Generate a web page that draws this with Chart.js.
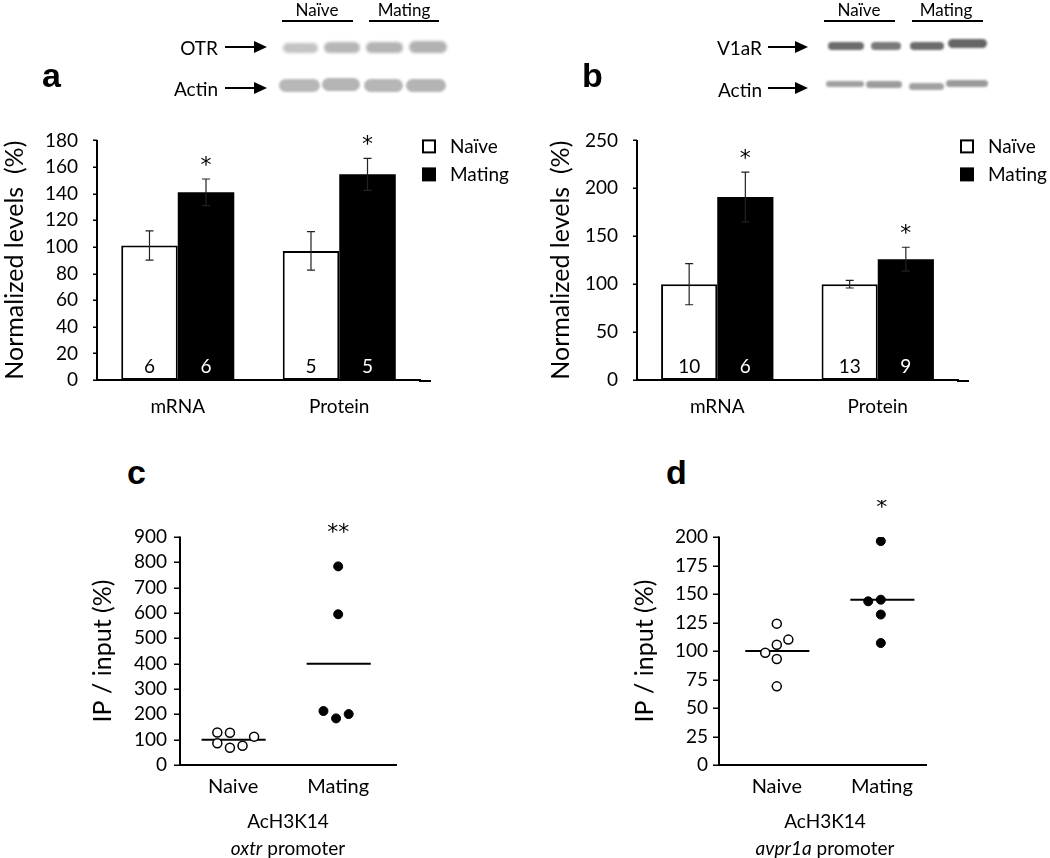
<!DOCTYPE html>
<html>
<head>
<meta charset="utf-8">
<script src="https://cdn.jsdelivr.net/npm/chart.js@4.4.1/dist/chart.umd.min.js"></script>
<style>
body { margin: 0; background: #fff; font-family: Lato, sans-serif; }
#page { position: relative; width: 1050px; height: 858px; overflow: hidden; }
.box { position: absolute; }
#axes { position: absolute; left: 0; top: 0; z-index: 5; pointer-events: none; }
.lbl { position: absolute; white-space: nowrap; color: #000; font-size: 19px; line-height: 1; transform: translate(-50%, -50%); }
.rgt { transform: translate(-100%, -50%); }
.letter { position: absolute; font-family: "Liberation Sans", Arial, sans-serif; font-weight: bold; font-size: 34px; line-height: 1; }
</style>
</head>
<body>
<div id="page">
  <canvas id="blots" class="box" style="left:0;top:0" width="1050" height="110"></canvas>

  <div class="box" style="left:0;top:110px;width:520px;height:320px"><canvas id="chartA" width="520" height="320"></canvas></div>
  <div class="box" style="left:520px;top:110px;width:530px;height:320px"><canvas id="chartB" width="530" height="320"></canvas></div>
  <div class="box" style="left:0;top:500px;width:520px;height:358px"><canvas id="chartC" width="520" height="358"></canvas></div>
  <div class="box" style="left:520px;top:500px;width:530px;height:358px"><canvas id="chartD" width="530" height="358"></canvas></div>

  <!-- panel letters -->
  <span class="letter" style="left:42px;top:58px">a</span>
  <span class="letter" style="left:582px;top:58px">b</span>
  <span class="letter" style="left:127px;top:455px">c</span>
  <span class="letter" style="left:666px;top:455px">d</span>

  <!-- blot labels -->
  <span class="lbl" style="left:317px;top:9px;font-size:17px">Naïve</span>
  <span class="lbl" style="left:404px;top:9px;font-size:17px">Mating</span>
  <span class="lbl rgt" style="left:218px;top:47px">OTR</span>
  <span class="lbl rgt" style="left:218px;top:88px">Actin</span>
  <span class="lbl" style="left:859px;top:9px;font-size:17px">Naïve</span>
  <span class="lbl" style="left:946px;top:9px;font-size:17px">Mating</span>
  <span class="lbl rgt" style="left:762px;top:47px">V1aR</span>
  <span class="lbl rgt" style="left:762px;top:89px">Actin</span>

  <!-- ChIP captions -->
  <span class="lbl" style="left:288px;top:820px">AcH3K14</span>
  <span class="lbl" style="left:288px;top:847px"><i>oxtr</i> promoter</span>
  <span class="lbl" style="left:825px;top:820px">AcH3K14</span>
  <span class="lbl" style="left:825px;top:847px"><i>avpr1a</i> promoter</span>

  <canvas id="axes" width="1050" height="858"></canvas>
</div>

<script>
// ---- data ---------------------------------------------------------------
const barGroups = ['mRNA', 'Protein'];
const seriesNames = ['Naïve', 'Mating'];

// a : OTR
const otrNaive = [101, 97];
const otrNaiveErr = [11, 14.5];
const otrNaiveN = [6, 5];
const otrMating = [141, 154.5];
const otrMatingErr = [10, 12];
const otrMatingN = [6, 5];
const otrStars = ['*', '*'];
const otrTicks = [0, 20, 40, 60, 80, 100, 120, 140, 160, 180];

// b : V1aR
const v1aNaive = [100, 100];
const v1aNaiveErr = [21.5, 4];
const v1aNaiveN = [10, 13];
const v1aMating = [191, 126];
const v1aMatingErr = [26, 12.5];
const v1aMatingN = [6, 9];
const v1aStars = ['*', '*'];
const v1aTicks = [0, 50, 100, 150, 200, 250];

// c : AcH3K14 oxtr promoter (x = group position with jitter)
const dotGroups = ['Naive', 'Mating'];
const oxtrNaiveX = [0.85, 0.97, 0.85, 0.97, 1.09, 1.2];
const oxtrNaiveY = [128, 127, 86, 68, 76, 112];
const oxtrMatingX = [2.0, 2.0, 1.86, 1.98, 2.1];
const oxtrMatingY = [784, 595, 213, 184, 201];
const oxtrMeans = [100, 400];
const oxtrTicks = [0, 100, 200, 300, 400, 500, 600, 700, 800, 900];

// d : AcH3K14 avpr1a promoter
const avprNaiveX = [1.0, 1.11, 1.0, 0.89, 1.0, 1.0];
const avprNaiveY = [124, 110, 105.5, 98.5, 93, 69];
const avprMatingX = [1.99, 1.87, 1.99, 1.99, 1.99];
const avprMatingY = [196.4, 143.6, 145, 132, 107];
const avprMeans = [100, 145];
const avprTicks = [0, 25, 50, 75, 100, 125, 150, 175, 200];

const FONT = 'Lato';
const STAR_FONT = '"DejaVu Sans"';

// ---- western blot pictures ----------------------------------------------
(function drawBlots() {
    const ctx = document.getElementById('blots').getContext('2d');

    function band(x0, x1, y0, y1, col, blur) {
        ctx.save();
        ctx.filter = 'blur(' + blur + 'px)';
        ctx.fillStyle = col;
        ctx.beginPath();
        ctx.roundRect(x0, y0, x1 - x0, y1 - y0, (y1 - y0) / 2);
        ctx.fill();
        ctx.restore();
    }
    function arrow(x0, x1, y) {
        ctx.strokeStyle = '#000';
        ctx.fillStyle = '#000';
        ctx.lineWidth = 2;
        ctx.beginPath();
        ctx.moveTo(x0, y);
        ctx.lineTo(x1 - 10, y);
        ctx.stroke();
        ctx.beginPath();
        ctx.moveTo(x1, y);
        ctx.lineTo(x1 - 13, y - 6);
        ctx.lineTo(x1 - 13, y + 6);
        ctx.closePath();
        ctx.fill();
    }
    function rule(x0, x1, y) {
        ctx.strokeStyle = '#000';
        ctx.lineWidth = 2;
        ctx.beginPath();
        ctx.moveTo(x0, y);
        ctx.lineTo(x1, y);
        ctx.stroke();
    }

    // a
    rule(282, 353, 21);
    rule(369, 439, 21);
    arrow(225, 267, 47);
    arrow(225, 267, 88);
    band(283, 318, 43, 53, '#c4c4c4', 1.5);
    band(324, 360, 42, 53, '#b6b6b6', 1.5);
    band(366, 403, 42, 53, '#b4b4b4', 1.5);
    band(409, 447, 41, 53, '#b2b2b2', 1.5);
    band(279, 320, 79, 92, '#b8b8b8', 1.2);
    band(322, 360, 78, 91, '#b4b4b4', 1.2);
    band(364, 403, 79, 92, '#b6b6b6', 1.2);
    band(406, 446, 79, 92, '#b4b4b4', 1.2);

    // b
    rule(824, 895, 21);
    rule(912, 983, 21);
    arrow(768, 808, 47);
    arrow(768, 808, 88);
    band(828, 864, 42, 50, '#6c6c6c', 1.2);
    band(871, 901, 42, 50, '#7a7a7a', 1.2);
    band(910, 944, 42, 50, '#6c6c6c', 1.2);
    band(948, 987, 39, 48, '#666666', 1.2);
    band(826, 864, 81, 87, '#a0a0a0', 1.2);
    band(866, 902, 81, 88, '#9c9c9c', 1.2);
    band(909, 944, 83, 90, '#a2a2a2', 1.2);
    band(946, 988, 80, 87, '#9a9a9a', 1.2);
})();

// ---- plugins --------------------------------------------------------------
// error bars, n inside the bars, asterisks, legend, longer x axis line
const barDecor = {
    id: 'barDecor',
    afterDatasetsDraw(chart) {
        const ctx = chart.ctx;
        const ys = chart.scales.y;
        const area = chart.chartArea;

        chart.data.datasets.forEach((ds, di) => {
            const meta = chart.getDatasetMeta(di);
            meta.data.forEach((bar, i) => {
                const v = ds.data[i];
                const e = ds.err[i];
                const top = ys.getPixelForValue(v + e);
                const bot = ys.getPixelForValue(v - e);

                ctx.save();
                ctx.strokeStyle = '#222';
                ctx.lineWidth = 1.2;
                ctx.beginPath();
                ctx.moveTo(bar.x, top);
                ctx.lineTo(bar.x, bot);
                ctx.moveTo(bar.x - 4, top);
                ctx.lineTo(bar.x + 4, top);
                ctx.moveTo(bar.x - 4, bot);
                ctx.lineTo(bar.x + 4, bot);
                ctx.stroke();

                ctx.fillStyle = ds.textColor;
                ctx.font = '19px ' + FONT;
                ctx.textAlign = 'center';
                ctx.textBaseline = 'middle';
                ctx.fillText(String(ds.n[i]), bar.x, ys.getPixelForValue(0) - 13);

                if (ds.star && ds.star[i]) {
                    ctx.fillStyle = '#000';
                    ctx.font = '22px ' + STAR_FONT;
                    ctx.fillText(ds.star[i], bar.x, top - 13);
                }
                ctx.restore();
            });
        });

        // x axis runs a little past the last group
        ctx.save();
        ctx.strokeStyle = '#000';
        ctx.lineWidth = 2;
        ctx.beginPath();
        ctx.moveTo(area.right - 1, area.bottom + 1);
        ctx.lineTo(area.right + 11, area.bottom + 1);
        ctx.stroke();

        // legend
        ctx.font = '19px ' + FONT;
        ctx.textAlign = 'left';
        ctx.textBaseline = 'middle';
        chart.data.datasets.forEach((ds, di) => {
            const cy = area.top + 6 + di * 28;
            ctx.fillStyle = ds.backgroundColor;
            ctx.fillRect(area.right + 3, cy - 6, 12, 12);
            ctx.strokeStyle = '#000';
            ctx.lineWidth = 2;
            ctx.strokeRect(area.right + 3, cy - 6, 12, 12);
            ctx.fillStyle = '#000';
            ctx.fillText(ds.label, area.right + 30, cy);
        });
        ctx.restore();
    }
};

// significance marks above the highest dot of a group
const dotDecor = {
    id: 'dotDecor',
    afterDatasetsDraw(chart) {
        const ctx = chart.ctx;
        const xs = chart.scales.x, ys = chart.scales.y;
        chart.data.datasets.forEach(ds => {
            if (!ds.star) return;
            const hi = Math.max(...ds.data.map(p => p.y));
            ctx.save();
            ctx.fillStyle = '#000';
            ctx.font = '22px ' + STAR_FONT;
            ctx.textAlign = 'center';
            ctx.textBaseline = 'middle';
            ctx.fillText(ds.star, xs.getPixelForValue(ds.group), ys.getPixelForValue(hi) - 33);
            ctx.restore();
        });
    }
};

// ---- charts -------------------------------------------------------------
function yAxis(ticks, title, width, titleOffset, labelGap) {
    return {
        min: ticks[0],
        max: ticks[ticks.length - 1],
        afterBuildTicks: s => { s.ticks = ticks.map(v => ({ value: v })); },
        ticks: { color: '#000', font: { family: FONT, size: 19 }, padding: labelGap, autoSkip: false },
        grid: { display: false, drawTicks: false },
        border: { display: false },
        title: { display: true, text: title, color: '#000', font: { family: FONT, size: 25 }, padding: { top: titleOffset, bottom: 0 } },
        afterFit: s => { s.width = width; }
    };
}

function barChart(id, naive, naiveErr, naiveN, mating, matingErr, matingN, stars, ticks, yWidth, padRight, titleOffset) {
    return new Chart(document.getElementById(id), {
        type: 'bar',
        data: {
            labels: barGroups,
            datasets: [{
                label: seriesNames[0],
                data: naive, err: naiveErr, n: naiveN,
                backgroundColor: '#fff', borderColor: '#000', borderWidth: 2, borderSkipped: false,
                textColor: '#000',
                categoryPercentage: 0.7, barPercentage: 1
            }, {
                label: seriesNames[1],
                data: mating, err: matingErr, n: matingN, star: stars,
                backgroundColor: '#000', borderColor: '#000', borderWidth: 0,
                textColor: '#fff',
                categoryPercentage: 0.7, barPercentage: 1
            }]
        },
        options: {
            responsive: false,
            animation: false,
            devicePixelRatio: 1,
            layout: { padding: { left: 0, right: padRight, top: 27, bottom: 0 } },
            plugins: { legend: { display: false }, tooltip: { enabled: false } },
            scales: {
                x: {
                    grid: { display: false, drawTicks: false },
                    border: { display: true, color: '#000', width: 2 },
                    ticks: { color: '#000', font: { family: FONT, size: 19 }, padding: 15 },
                    afterFit: s => { s.height = 50; }
                },
                y: yAxis(ticks, 'Normalized levels  (%)', yWidth, titleOffset, 19)
            }
        },
        plugins: [barDecor]
    });
}

function dotChart(id, nx, ny, mx, my, means, star, ticks, xMin, xMax, yWidth, titleOffset, labelGap) {
    const pts = (xs, ys) => xs.map((x, i) => ({ x: x, y: ys[i] }));
    const meanLine = (g, m) => ({
        type: 'line',
        data: [{ x: g - 0.3, y: m }, { x: g + 0.31, y: m }],
        borderColor: '#000', borderWidth: 2, pointRadius: 0, showLine: true, fill: false
    });
    return new Chart(document.getElementById(id), {
        type: 'scatter',
        data: {
            datasets: [{
                data: pts(nx, ny), group: 1,
                pointRadius: 4.5, backgroundColor: '#fff', borderColor: '#000', borderWidth: 1.5
            }, {
                data: pts(mx, my), group: 2, star: star,
                pointRadius: 4.5, backgroundColor: '#000', borderColor: '#000', borderWidth: 1
            },
            meanLine(1, means[0]),
            meanLine(2, means[1])]
        },
        options: {
            responsive: false,
            animation: false,
            devicePixelRatio: 1,
            layout: { padding: { left: 0, right: 124, top: 37, bottom: 0 } },
            plugins: { legend: { display: false }, tooltip: { enabled: false } },
            scales: {
                x: {
                    type: 'linear',
                    min: xMin, max: xMax,
                    afterBuildTicks: s => { s.ticks = [{ value: 1 }, { value: 2 }]; },
                    grid: { display: false, drawTicks: false },
                    border: { display: true, color: '#000', width: 2 },
                    ticks: { color: '#000', font: { family: FONT, size: 20 }, padding: 10,
                             callback: v => dotGroups[Math.round(v) - 1] },
                    afterFit: s => { s.height = 93; }
                },
                y: yAxis(ticks, 'IP / input (%)', yWidth, titleOffset, labelGap)
            }
        },
        plugins: [dotDecor]
    });
}

const charts = [
    barChart('chartA', otrNaive, otrNaiveErr, otrNaiveN, otrMating, otrMatingErr, otrMatingN, otrStars, otrTicks, 97, 100, 0),
    barChart('chartB', v1aNaive, v1aNaiveErr, v1aNaiveN, v1aMating, v1aMatingErr, v1aMatingN, v1aStars, v1aTicks, 117, 92, 26),
    dotChart('chartC', oxtrNaiveX, oxtrNaiveY, oxtrMatingX, oxtrMatingY, oxtrMeans, '**', oxtrTicks, 0.495, 2.55, 180, 88, 13),
    dotChart('chartD', avprNaiveX, avprNaiveY, avprMatingX, avprMatingY, avprMeans, '*', avprTicks, 0.45, 2.42, 199, 110, 11)
];
const tickLens = [4, 4, 6, 6];

// ---- y axis lines + tick marks, from each chart's own y scale -------------
(function drawAxes() {
    const page = document.getElementById('page').getBoundingClientRect();
    const ctx = document.getElementById('axes').getContext('2d');
    ctx.strokeStyle = '#000';
    charts.forEach((chart, k) => {
        const r = chart.canvas.getBoundingClientRect();
        const ox = r.left - page.left, oy = r.top - page.top;
        const area = chart.chartArea;
        const ys = chart.scales.y;
        const x = ox + area.left;

        ctx.lineWidth = 2;
        ctx.beginPath();
        ctx.moveTo(x, oy + area.top - 0.5);
        ctx.lineTo(x, oy + area.bottom + 1);
        ctx.stroke();

        ctx.lineWidth = 1.5;
        ctx.beginPath();
        ys.ticks.forEach(t => {
            const y = Math.round(oy + ys.getPixelForValue(t.value)) + 0.25;
            ctx.moveTo(x - tickLens[k], y);
            ctx.lineTo(x, y);
        });
        ctx.stroke();
    });
})();
</script>
</body>
</html>
